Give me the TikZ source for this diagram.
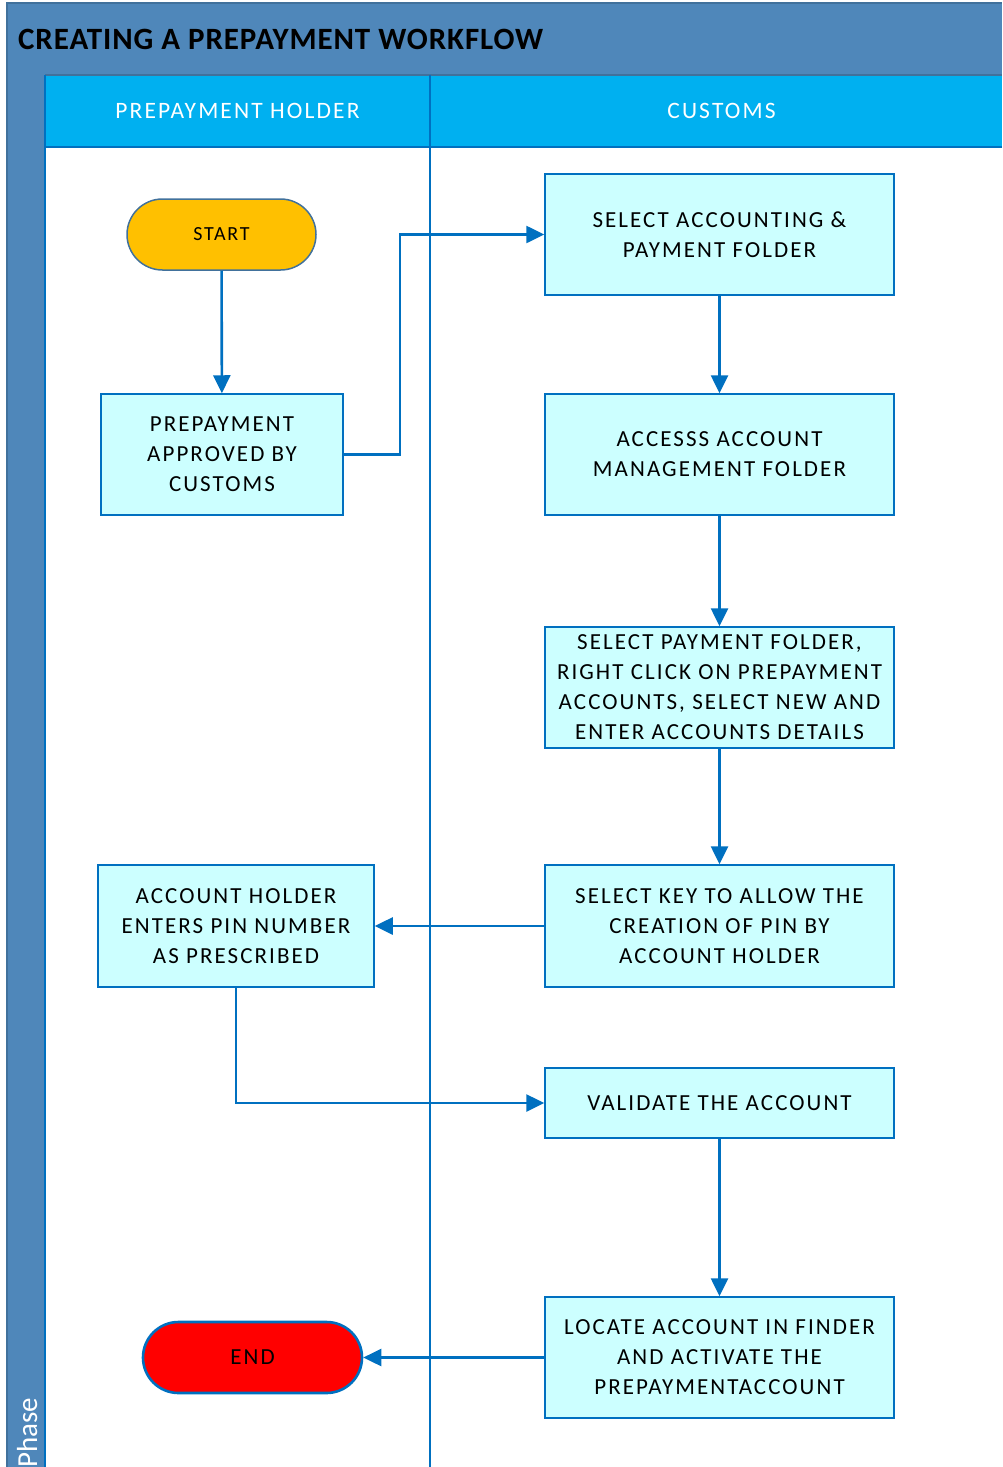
\documentclass[tikz,border=0pt]{standalone}
\usepackage{fontspec}
\setmainfont{Carlito}
\newfontfamily\spacedfont[LetterSpace=9]{Carlito}
\newfontfamily\titlefont[LetterSpace=3]{Carlito}
\usetikzlibrary{arrows.meta,shapes.misc}

\definecolor{bandblue}{HTML}{4F87BA}
\definecolor{bandedge}{HTML}{41719C}
\definecolor{hdrblue}{HTML}{00B0F0}
\definecolor{linkblue}{HTML}{0070C0}
\definecolor{boxfill}{HTML}{CCFFFF}
\definecolor{startfill}{HTML}{FFC000}

\tikzset{
  stepbox/.style={draw=linkblue, line width=1.5pt, fill=boxfill, align=center,
    inner sep=0pt, font=\spacedfont\fontsize{23}{30}\selectfont},
  terminal/.style={rounded rectangle, align=center, inner sep=0pt},
  link/.style={draw=linkblue, line width=2.6pt, -{Triangle[length=18pt,width=17pt]}},
  lanehdr/.style={text=white, font=\spacedfont\fontsize{23.5}{26}\selectfont}
}

\begin{document}
\begin{tikzpicture}[x=1pt,y=-1pt]
\useasboundingbox (0,0) rectangle (1002,1467);

% title band and phase band
\fill[bandblue] (7,3) rectangle (1002,75);
\fill[bandblue] (7,75) rectangle (45,1467);
\draw[bandedge, line width=1.2pt] (7,1467) -- (7,3) -- (1002,3);
\node[anchor=base west, inner sep=0pt, font=\titlefont\bfseries\fontsize{31}{33}\selectfont] (title) at (18,49) {CREATING A PREPAYMENT WORKFLOW};
\node[anchor=base west, rotate=90, text=white, font=\fontsize{29}{30}\selectfont, inner sep=0pt] (phase) at (37,1468) {Phase};

% lane headers
\fill[hdrblue] (45,75) rectangle (1002,147);
\draw[bandedge, line width=1.2pt] (45,75) -- (1002,75);
\draw[linkblue, line width=1.5pt] (45,147) -- (1002,147);
\draw[linkblue, line width=1.2pt] (45,75) -- (45,1467);
\draw[linkblue, line width=2pt] (430,75) -- (430,1467);
\node[lanehdr] (h1) at (237.5,111) {PREPAYMENT HOLDER};
\node[lanehdr] (h2) at (721.5,111) {CUSTOMS};

% shapes
\node[terminal, draw=bandedge, line width=1.5pt, fill=startfill, minimum width=189pt, minimum height=71pt,
  font=\spacedfont\fontsize{20}{22}\selectfont] (start) at (221.5,234.5) {START};
\node[stepbox, minimum width=242pt, minimum height=121pt] (appr) at (222,454.5) {PREPAYMENT\\APPROVED BY\\CUSTOMS};
\node[stepbox, minimum width=349pt, minimum height=121pt] (selacc) at (719.5,234.5) {SELECT ACCOUNTING \&\\PAYMENT FOLDER};
\node[stepbox, minimum width=349pt, minimum height=121pt] (access) at (719.5,454.5) {ACCESSS ACCOUNT\\MANAGEMENT FOLDER};
\node[stepbox, minimum width=349pt, minimum height=121pt] (selpay) at (719.5,687.5) {SELECT PAYMENT FOLDER,\\RIGHT CLICK ON PREPAYMENT\\ACCOUNTS, SELECT NEW AND\\ENTER ACCOUNTS DETAILS};
\node[stepbox, minimum width=349pt, minimum height=122pt] (selkey) at (719.5,926) {SELECT KEY TO ALLOW THE\\CREATION OF PIN BY\\ACCOUNT HOLDER};
\node[stepbox, minimum width=276pt, minimum height=122pt] (holder) at (236,926) {ACCOUNT HOLDER\\ENTERS PIN NUMBER\\AS PRESCRIBED};
\node[stepbox, minimum width=349pt, minimum height=70pt] (valid) at (719.5,1103) {VALIDATE THE ACCOUNT};
\node[stepbox, minimum width=349pt, minimum height=121pt] (locate) at (719.5,1357.5) {LOCATE ACCOUNT IN FINDER\\AND ACTIVATE THE\\PREPAYMENTACCOUNT};
\node[terminal, draw=linkblue, line width=2.6pt, fill=red, minimum width=219pt, minimum height=71pt,
  font=\spacedfont\fontsize{23}{26}\selectfont] (finish) at (252.5,1357.5) {END};

% connectors
\coordinate (j1) at (400,454.5);
\coordinate (j2) at (400,234.5);
\coordinate (j3) at (236,1103);
\draw[link] (start) -- (appr);
\draw[link] (appr.east) -- (j1) -- (j2) -- (selacc.west);
\draw[link] (selacc) -- (access);
\draw[link] (access) -- (selpay);
\draw[link] (selpay) -- (selkey);
\draw[link] (selkey) -- (holder);
\draw[link] (holder.south) -- (j3) -- (valid.west);
\draw[link] (valid) -- (locate);
\draw[link] (locate) -- (finish);
\end{tikzpicture}
\end{document}
